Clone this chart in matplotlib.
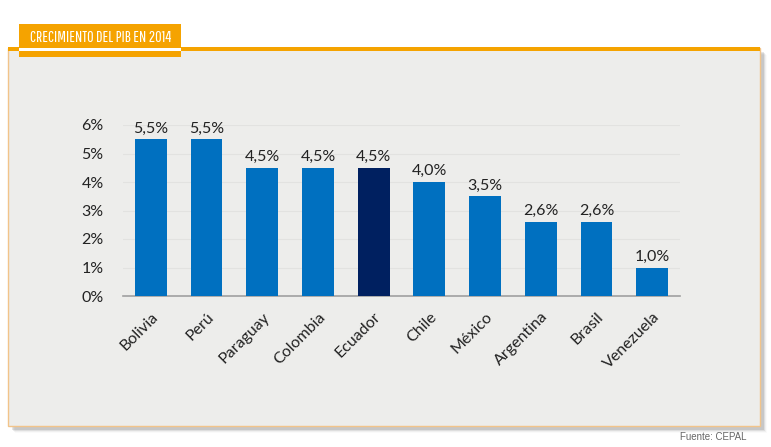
import matplotlib
matplotlib.use("Agg")
import matplotlib.pyplot as plt
from matplotlib.patches import Rectangle

paises = ["Bolivia", "Perú", "Paraguay", "Colombia", "Ecuador", "Chile",
          "México", "Argentina", "Brasil", "Venezuela"]
crecimiento = [5.5, 5.5, 4.5, 4.5, 4.5, 4.0, 3.5, 2.6, 2.6, 1.0]
destacado = "Ecuador"
yticks = [0, 1, 2, 3, 4, 5, 6]

W, H = 771, 447
fig = plt.figure(figsize=(W / 100, H / 100), dpi=100)
fig.patch.set_facecolor("white")

def px(x, y, w, h):
    # caja en pixeles (origen arriba a la izquierda) -> coords de figura
    return (x / W, 1 - (y + h) / H), w / W, h / H

def caja(x, y, w, h, z, **kw):
    (x0, y0), ww, hh = px(x, y, w, h)
    fig.patches.append(Rectangle((x0, y0), ww, hh, transform=fig.transFigure,
                                 zorder=z, **kw))

# sombra del panel
for i, a in enumerate([0.10, 0.07, 0.04, 0.02]):
    caja(12 + i, 52 + i, 752, 378, 0, facecolor="black", alpha=a, edgecolor="none")

caja(8, 48, 752, 378, 1, facecolor="#EDEDEB", edgecolor="#F2C48A", lw=1)
caja(8, 47, 752, 4, 2, facecolor="#F5A300", edgecolor="none")

# caja del título
caja(19, 24, 162, 33, 3, facecolor="#F5A300", edgecolor="none")
caja(19, 48, 162, 3, 4, facecolor="white", edgecolor="none")
titulo = fig.text(101 / W, 1 - 37 / H, "CRECIMIENTO DEL PIB EN 2014", color="white",
                  fontsize=15, va="center", ha="center", zorder=5,
                  family=["Pathway Gothic One", "Oswald", "Fira Sans Extra Condensed", "DejaVu Sans"])
# ajustar tamaño para que quepa en la caja
r = fig.canvas.get_renderer()
ancho = titulo.get_window_extent(r).width
titulo.set_fontsize(min(15, 15 * 143 / ancho))

fig.text(747 / W, 1 - 437 / H, "Fuente: CEPAL", color="#666666", fontsize=7,
         ha="right", va="center", family=["Liberation Sans", "DejaVu Sans"])

ax = fig.add_axes([123 / W, 1 - 296 / H, 557 / W, 171 / H])
ax.set_facecolor("none")
ax.set_zorder(6)

fuente = ["Lato", "DejaVu Sans"]
colores = ["#002060" if p == destacado else "#0070C0" for p in paises]
x = range(len(paises))
ax.bar(x, crecimiento, width=0.57, color=colores, zorder=3)
for xi, v in zip(x, crecimiento):
    ax.text(xi, v + 0.13, f"{v:.1f}%".replace(".", ","), ha="center", va="bottom",
            fontsize=11.5, color="#222222", family=fuente)

ax.set_xlim(-0.5, 9.5)
ax.set_ylim(0, 6)
ax.set_yticks(yticks)
ax.set_yticklabels([f"{t}%" for t in yticks], fontsize=11.5, color="#222222", family=fuente)
ax.set_xticks(list(x))
ax.set_xticklabels(paises, rotation=45, ha="right", rotation_mode="anchor",
                   fontsize=11.5, color="#222222", family=fuente)
ax.tick_params(length=0)
ax.tick_params(axis="y", pad=14)
ax.tick_params(axis="x", pad=10)
ax.yaxis.grid(True, color="#E2E2E0", lw=0.8, zorder=0)
for s in ["top", "right", "left"]:
    ax.spines[s].set_visible(False)
ax.spines["bottom"].set_color("#A0A0A0")
ax.spines["bottom"].set_linewidth(1.2)

fig.savefig("out.png", dpi=100, facecolor="white")
